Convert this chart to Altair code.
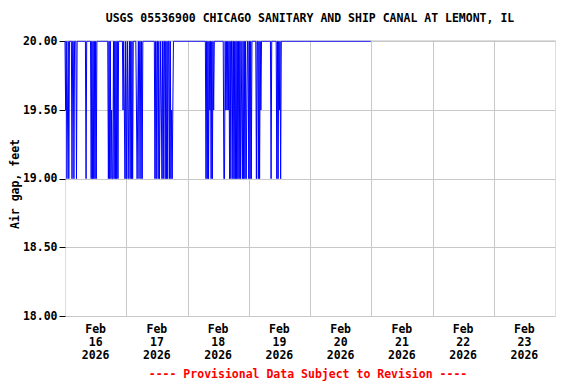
import altair as alt
import pandas as pd

# Gage readings every 15 minutes, 2026-02-16 00:00 .. 2026-02-20 23:45 (480 readings)
reading_start = "2026-02-16 00:00"
n_readings = 480
base_level = 20.00
# reading indices (15-min steps from start) whose value dips below 20.00 ft
dips_19_5 = [1, 4, 73, 91, 93,
             97, 100, 112, 114, 149, 151, 167, 169,
             227, 233, 252, 254, 256, 277, 285,
             307, 336]
dips_19_0 = [3, 6, 11, 14, 18, 33, 41, 43, 45, 47, 49, 68, 70, 72, 74, 75, 77, 79, 81, 83, 94,
             96, 99, 102, 104, 106, 113, 116, 119, 121, 141, 143, 146, 148, 152, 154, 157, 159,
             161, 164, 166, 168,
             221, 223, 225, 229, 231, 249, 250, 258, 260, 263, 265, 267, 269, 271, 273, 275,
             278, 280, 282, 284,
             288, 290, 292, 300, 303, 305, 323, 332, 334, 338]

day_labels = ["Feb\n16\n2026", "Feb\n17\n2026", "Feb\n18\n2026", "Feb\n19\n2026",
              "Feb\n20\n2026", "Feb\n21\n2026", "Feb\n22\n2026", "Feb\n23\n2026"]
day_noons = ["2026-02-16 12:00", "2026-02-17 12:00", "2026-02-18 12:00", "2026-02-19 12:00",
             "2026-02-20 12:00", "2026-02-21 12:00", "2026-02-22 12:00", "2026-02-23 12:00"]
y_ticks = [18.0, 18.5, 19.0, 19.5, 20.0]

title_text = "USGS 05536900 CHICAGO SANITARY AND SHIP CANAL AT LEMONT, IL"
y_title = "Air gap, feet"
note_text = "---- Provisional Data Subject to Revision ----"

values = [base_level] * n_readings
for i in dips_19_5:
    values[i] = 19.5
for i in dips_19_0:
    values[i] = 19.0
times = pd.date_range(reading_start, periods=n_readings, freq="15min")
df = pd.DataFrame({"t": times.strftime("%Y-%m-%dT%H:%M:%S"), "v": values})

FONT = "DejaVu Sans Mono"
FS = 11.5
W, H = 490, 276

xdomain = [alt.DateTime(year=2026, month=2, date=16, hours=0),
           alt.DateTime(year=2026, month=2, date=24, hours=0)]
grid_days = [alt.DateTime(year=2026, month=2, date=d, hours=0) for d in range(17, 24)]
xscale = alt.Scale(domain=xdomain)

line = alt.Chart(df).mark_line(color="#0000ff", strokeWidth=1, interpolate="linear").encode(
    x=alt.X("t:T", scale=xscale,
            axis=alt.Axis(values=grid_days, labels=False, ticks=False, domain=False,
                          grid=True, gridColor="#c8c8c8", gridWidth=1, title=None)),
    y=alt.Y("v:Q", scale=alt.Scale(domain=[18.0, 20.01], nice=False, zero=False),
            axis=alt.Axis(values=y_ticks, format=".2f", grid=True, gridColor="#c8c8c8",
                          gridWidth=1, tickSize=6, tickColor="#000000", labelPadding=2,
                          labelFont=FONT, labelFontSize=FS, labelFontWeight="bold",
                          labelColor="#000000", domain=False, title=None)),
)

lab_df = pd.DataFrame({"t": day_noons, "lab": day_labels})
xlabels = alt.Chart(lab_df).mark_text(
    font=FONT, fontSize=FS, fontWeight="bold", color="#000000",
    baseline="top", align="center", lineBreak="\n", lineHeight=13,
).encode(x=alt.X("t:T", scale=xscale), y=alt.value(H + 8), text="lab:N")

title = alt.Chart(pd.DataFrame({"s": [title_text]})).mark_text(
    font=FONT, fontSize=FS, fontWeight="bold", color="#000000", baseline="middle", align="center"
).encode(x=alt.value(W / 2), y=alt.value(-21), text="s:N")

ytitle = alt.Chart(pd.DataFrame({"s": [y_title]})).mark_text(
    font=FONT, fontSize=FS, fontWeight="bold", color="#000000", baseline="middle",
    align="center", angle=270
).encode(x=alt.value(-49), y=alt.value(144), text="s:N")

note = alt.Chart(pd.DataFrame({"s": [note_text]})).mark_text(
    font=FONT, fontSize=FS, fontWeight="bold", color="#ff0000", baseline="middle", align="center"
).encode(x=alt.value(243), y=alt.value(H + 59), text="s:N")

chart = alt.layer(line, xlabels, title, ytitle, note).properties(
    width=W, height=H,
    autosize=alt.AutoSizeParams(type="none"),
    padding={"left": 57, "top": 32, "right": 13, "bottom": 68},
).configure_view(stroke="#000000", strokeWidth=1.5).configure(background="#ffffff")

chart.save("out.html", embed_options={"renderer": "svg", "actions": False})
